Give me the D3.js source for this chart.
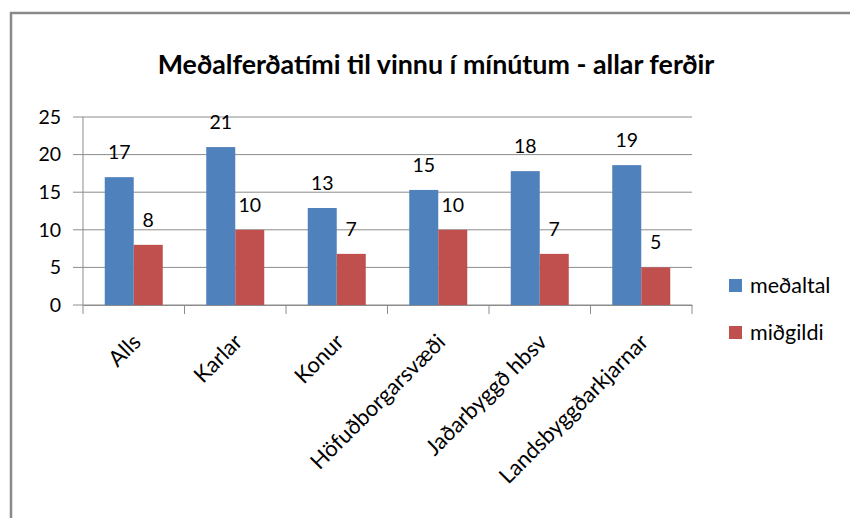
<!DOCTYPE html>
<meta charset="utf-8">
<style>
body { margin: 0; background: #fff; }
svg text { font-family: Lato, "Open Sans", sans-serif; fill: #000; }
</style>
<svg width="850" height="518"></svg>
<script src="https://d3js.org/d3.v7.min.js"></script>
<script>

// values
var categories = ["Alls", "Karlar", "Konur", "Höfuðborgarsvæði", "Jaðarbyggð hbsv", "Landsbyggðarkjarnar"];
var seriesNames = ["meðaltal", "miðgildi"];
var medaltal = [17.0, 21.0, 12.9, 15.3, 17.8, 18.6];
var midgildi = [8.0, 10.0, 6.8, 10.0, 6.8, 5.0];
var yTicks = [0, 5, 10, 15, 20, 25];
var titleText = "Meðalferðatími til vinnu í mínútum - allar ferðir";

var svg = d3.select("svg"),
    margin = {top: 117, left: 83, right: 158, bottom: 213},
    width = +svg.attr("width") - margin.left - margin.right,
    height = +svg.attr("height") - margin.top - margin.bottom,
    g = svg.append("g").attr("transform", "translate(" + margin.left + "," + margin.top + ")");

var colors = d3.scaleOrdinal().domain(seriesNames).range(["#4F81BD", "#C0504D"]);

// outer chart frame
svg.append("path")
    .attr("d", "M11,520V13H852")
    .attr("fill", "none")
    .attr("stroke", "#8a8a8a")
    .attr("stroke-width", 2.5);

svg.append("text")
    .attr("x", 436)
    .attr("y", 74)
    .attr("text-anchor", "middle")
    .attr("font-weight", "bold")
    .attr("font-size", 26.8)
    .text(titleText);

var x0 = d3.scaleBand().domain(categories).range([0, width]).padding(0);
var x1 = d3.scaleBand().domain(seriesNames).range([0, x0.bandwidth()]).paddingOuter(0.75).paddingInner(0);
var y = d3.scaleLinear().domain([0, 25]).range([height, 0]);

// grid + left ticks
g.append("g")
    .selectAll("line")
    .data(yTicks)
    .enter().append("line")
      .attr("x1", -10)
      .attr("x2", width)
      .attr("y1", function(d) { return y(d); })
      .attr("y2", function(d) { return y(d); })
      .attr("stroke", "#8c8c8c")
      .attr("stroke-width", 1);

g.append("g")
    .selectAll("text")
    .data(yTicks)
    .enter().append("text")
      .attr("x", -22)
      .attr("y", function(d) { return y(d); })
      .attr("dy", "0.35em")
      .attr("text-anchor", "end")
      .attr("font-size", 19.5)
      .text(function(d) { return d; });

var rows = categories.map(function(c, i) { return {cat: c, vals: [medaltal[i], midgildi[i]]}; });

var groups = g.append("g")
  .selectAll("g")
  .data(rows)
  .enter().append("g")
    .attr("transform", function(d) { return "translate(" + x0(d.cat) + ",0)"; });

groups.selectAll("rect")
  .data(function(d) { return seriesNames.map(function(k, j) { return {key: k, value: d.vals[j]}; }); })
  .enter().append("rect")
    .attr("x", function(d) { return x1(d.key); })
    .attr("y", function(d) { return y(d.value); })
    .attr("width", x1.bandwidth())
    .attr("height", function(d) { return height - y(d.value); })
    .attr("fill", function(d) { return colors(d.key); });

groups.selectAll("text")
  .data(function(d) { return seriesNames.map(function(k, j) { return {key: k, value: d.vals[j]}; }); })
  .enter().append("text")
    .attr("x", function(d) { return x1(d.key) + x1.bandwidth() / 2; })
    .attr("y", function(d) { return y(d.value) - 18; })
    .attr("text-anchor", "middle")
    .attr("font-size", 19.5)
    .text(function(d) { return d3.format(".0f")(d.value); });

// axes lines
g.append("line")
    .attr("x1", 0).attr("x2", 0)
    .attr("y1", 0).attr("y2", height)
    .attr("stroke", "#8c8c8c");

var xAxis = g.append("g")
    .attr("transform", "translate(0," + height + ")")
    .call(d3.axisBottom(x0).tickSize(0).tickFormat(""));
xAxis.select(".domain").attr("stroke", "#8c8c8c");

xAxis.selectAll(".sep")
    .data(d3.range(categories.length + 1))
    .enter().append("line")
      .attr("class", "sep")
      .attr("x1", function(i) { return i * x0.step(); })
      .attr("x2", function(i) { return i * x0.step(); })
      .attr("y1", 0).attr("y2", 9)
      .attr("stroke", "#8c8c8c");

g.append("g")
    .selectAll("text")
    .data(categories)
    .enter().append("text")
      .attr("transform", function(d) {
        return "translate(" + (x0(d) + x0.bandwidth() / 2 + 3) + "," + (height + 33) + ") rotate(-45)";
      })
      .attr("text-anchor", "end")
      .attr("dy", "0.35em")
      .attr("font-size", 22)
      .text(function(d) { return d; });

// legend
var legend = svg.append("g")
  .selectAll("g")
  .data(seriesNames)
  .enter().append("g")
    .attr("transform", function(d, i) { return "translate(729," + (279 + i * 47) + ")"; });

legend.append("rect")
    .attr("width", 13)
    .attr("height", 13)
    .attr("fill", colors);

legend.append("text")
    .attr("x", 21)
    .attr("y", 6.5)
    .attr("dy", "0.35em")
    .attr("font-size", 21.5)
    .text(function(d) { return d; });

</script>
